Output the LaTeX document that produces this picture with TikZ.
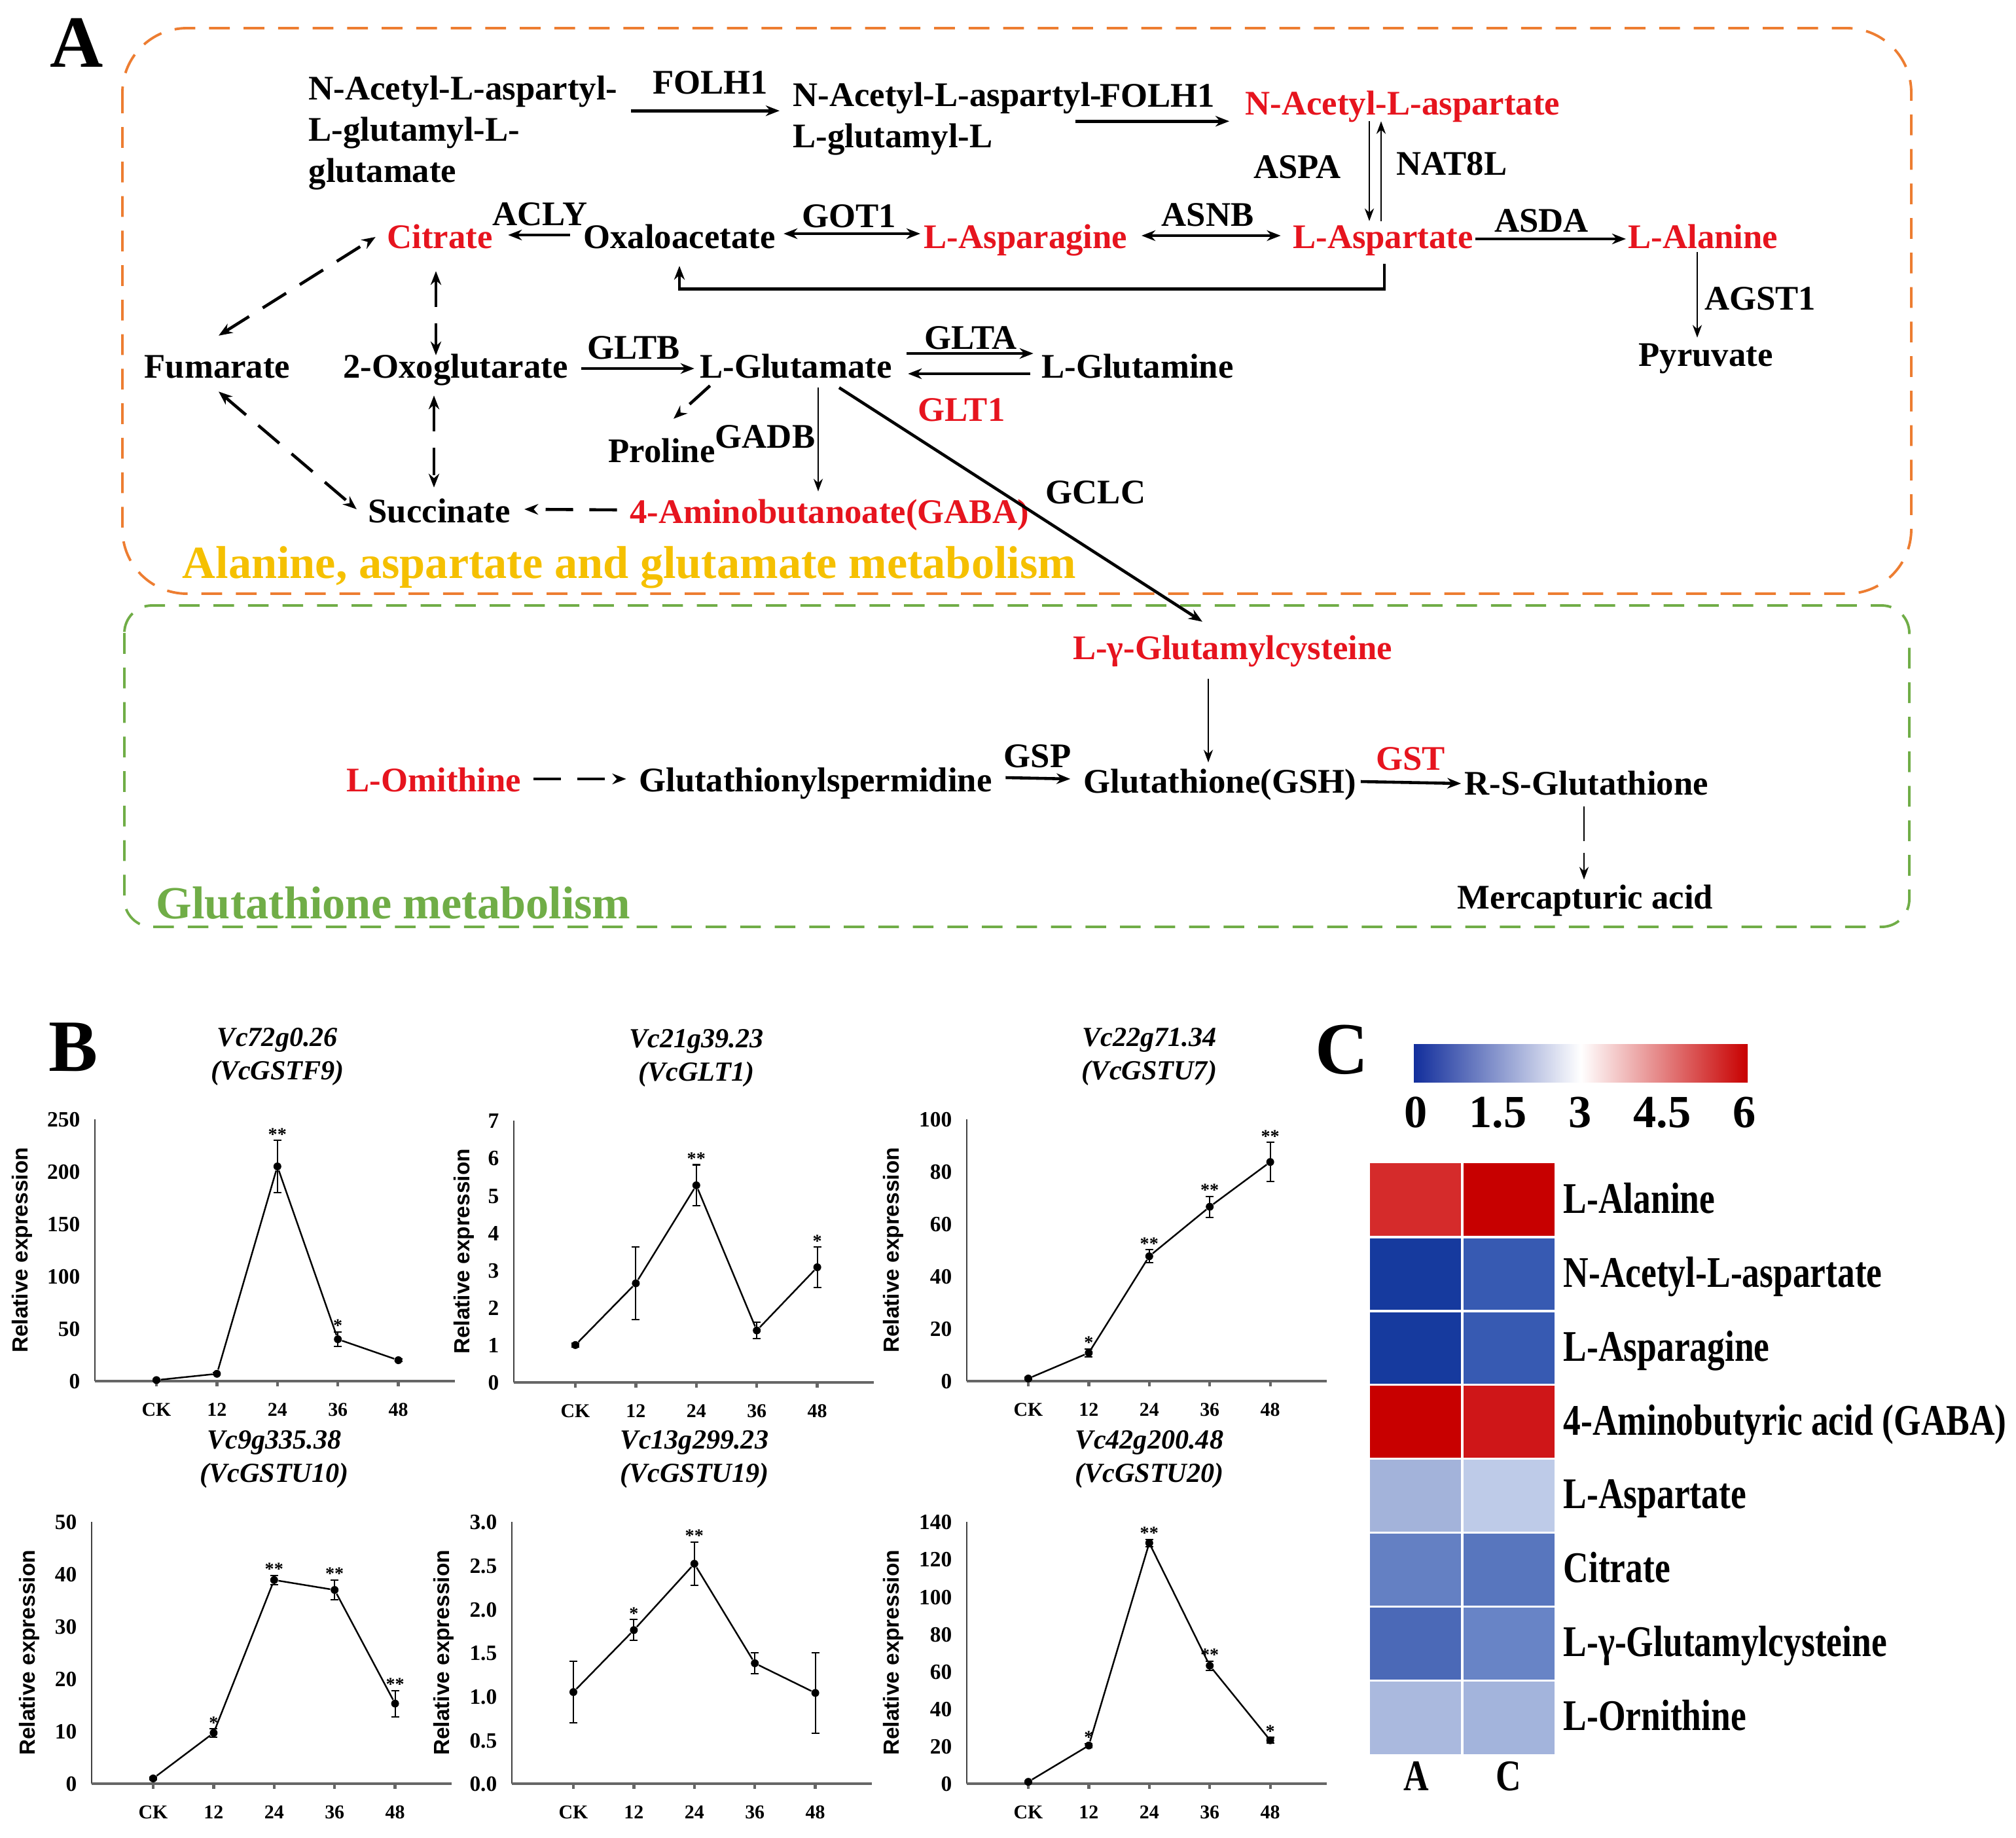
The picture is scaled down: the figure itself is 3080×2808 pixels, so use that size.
\documentclass[tikz,border=0pt]{standalone}
\usepackage{fontspec}
\setmainfont{Liberation Serif}
\newfontfamily\axisfont{Liberation Sans}
\newfontfamily\hmfont{Liberation Serif}[FakeStretch=0.8]
\usetikzlibrary{arrows.meta, calc}
\definecolor{hitred}{RGB}{230,20,30}
\definecolor{aspbox}{RGB}{237,125,49}
\definecolor{gshbox}{RGB}{112,173,71}
\definecolor{asptitle}{RGB}{245,192,0}
\definecolor{cbblue}{RGB}{18,46,156}
\definecolor{cbred}{RGB}{200,0,0}
\definecolor{hmA1}{RGB}{213,43,43}   \definecolor{hmC1}{RGB}{199,0,0}
\definecolor{hmA2}{RGB}{22,58,158}   \definecolor{hmC2}{RGB}{55,90,178}
\definecolor{hmA3}{RGB}{22,58,158}   \definecolor{hmC3}{RGB}{55,90,178}
\definecolor{hmA4}{RGB}{200,0,0}     \definecolor{hmC4}{RGB}{207,22,24}
\definecolor{hmA5}{RGB}{163,179,218} \definecolor{hmC5}{RGB}{190,203,232}
\definecolor{hmA6}{RGB}{100,128,195} \definecolor{hmC6}{RGB}{88,118,190}
\definecolor{hmA7}{RGB}{75,105,183}  \definecolor{hmC7}{RGB}{104,132,198}
\definecolor{hmA8}{RGB}{170,185,222} \definecolor{hmC8}{RGB}{163,180,220}

\tikzstyle{metab} = [inner sep=0pt, text height=11.3pt, text depth=1.5pt,
                     font=\fontsize{15}{18}\selectfont\bfseries]
\tikzstyle{metabml} = [inner sep=0pt, align=left,
                       font=\fontsize{15}{18}\selectfont\bfseries]
\tikzstyle{hit} = [metab, text=hitred]
\tikzstyle{arrow} = [line width=1.3pt, -{Stealth[length=6pt,width=4.6pt]}]
\tikzstyle{dblarrow} = [line width=1.3pt,
                        {Stealth[length=6pt,width=4.6pt]}-{Stealth[length=6pt,width=4.6pt]}]
\tikzstyle{thinarrow} = [line width=0.8pt, -{Stealth[length=5.5pt,width=4pt]}]
\tikzstyle{dasharrow} = [arrow, dash pattern=on 12pt off 7pt]
\tikzstyle{dashdbl} = [dblarrow, dash pattern=on 12pt off 7pt]
\tikzstyle{pathbox} = [line width=1.1pt, dash pattern=on 9pt off 6pt]
\tikzstyle{pathtitle} = [inner sep=0pt, anchor=west, text height=15pt, text depth=2pt,
                         font=\fontsize{20}{24}\selectfont\bfseries]
\tikzstyle{panel} = [inner sep=0pt, text height=22.4pt, text depth=0pt,
                     font=\fontsize{32}{36}\selectfont\bfseries]
\tikzstyle{plottitle} = [inner sep=0pt, text height=9pt, text depth=1.2pt,
                         font=\fontsize{12}{14}\selectfont\bfseries\itshape]
\tikzstyle{ytick} = [inner sep=0pt, anchor=east, text height=6.7pt, text depth=0pt,
                     font=\fontsize{9.5}{11}\selectfont\bfseries]
\tikzstyle{xtick} = [inner sep=0pt, text height=5.8pt, text depth=0pt,
                     font=\fontsize{8.5}{10}\selectfont\bfseries]
\tikzstyle{ylab} = [inner sep=0pt, rotate=90, font=\fontsize{9.5}{11}\axisfont\bfseries]
\tikzstyle{stars} = [inner sep=0pt, anchor=base, font=\fontsize{8}{9}\selectfont\bfseries]
\tikzstyle{dot} = [circle, fill=black, inner sep=0pt, minimum size=0.12cm]
\tikzstyle{dataline} = [line width=0.7pt]
\tikzstyle{errbar} = [line width=0.6pt]
\tikzstyle{xaxis} = [line width=1.2pt, black!60]
\tikzstyle{yaxis} = [line width=0.6pt, black!75]
\tikzstyle{hmlabel} = [inner sep=0pt, text height=13.3pt, text depth=2pt,
                       font=\fontsize{19}{22}\hmfont\bfseries]
\tikzstyle{cblabel} = [inner sep=0pt, text height=14pt, text depth=0pt,
                       font=\fontsize{20}{24}\selectfont\bfseries]

% one expression plot: name, origin x, origin y, top value, y ticks, points, title, gene, y-label offset
\newcommand{\exprplot}[9]{%
  \node[plottitle] (#1-ta) at ({#2+279},{#3-525}) {#7};
  \node[plottitle] (#1-tb) at ({#2+279},{#3-474}) {#8};
  \begin{scope}[shift={({#2},{#3})}]
    \draw[yaxis] (0,0) -- (0,-400);
    \draw[xaxis] (0,0) -- (550,0);
    \foreach \tk/\tl [count=\n] in {#5}
      \node[ytick] (#1-y\n) at (-22,{-\tk/#4*400}) {\tl};
    \node[ylab] (#1-lab) at (#9,-200) {Relative expression};
    \foreach \xl [count=\n from 0] in {CK,12,24,36,48} {
      \draw[xaxis] ({94+92.4*\n},0) -- ({94+92.4*\n},8);
      \node[xtick] (#1-x\n) at ({94+92.4*\n},43) {\xl};
    }
    \foreach \pos/\val/\err/\sig in {#6} {
      \draw[errbar] ({94+92.4*\pos},{-(\val-\err)/#4*400}) -- ({94+92.4*\pos},{-(\val+\err)/#4*400});
      \draw[errbar] ({88+92.4*\pos},{-(\val+\err)/#4*400}) -- ({100+92.4*\pos},{-(\val+\err)/#4*400});
      \draw[errbar] ({88+92.4*\pos},{-(\val-\err)/#4*400}) -- ({100+92.4*\pos},{-(\val-\err)/#4*400});
      \node[dot] (#1-p\pos) at ({94+92.4*\pos},{-\val/#4*400}) {};
      \node[stars] (#1-s\pos) at ({94+92.4*\pos},{-(\val+\err)/#4*400}) {\sig};
    }
    \draw[dataline] (#1-p0) -- (#1-p1) -- (#1-p2) -- (#1-p3) -- (#1-p4);
  \end{scope}
}

\begin{document}
\begin{tikzpicture}[x=0.01cm, y=-0.01cm]
    \useasboundingbox (0,0) rectangle (3080,2808);

    % A: pathway
    \node[panel] (panelA) at (117,63) {A};
    \draw[pathbox, aspbox, rounded corners=28pt] (187,43) rectangle (2920,907);
    \draw[pathbox, gshbox, rounded corners=12pt] (190,925) rectangle (2917,1416);
    \node[pathtitle, text=asptitle] (titleA) at (278,861) {Alanine, aspartate and glutamate metabolism};
    \node[pathtitle, text=gshbox] (titleG) at (238,1381) {Glutathione metabolism};

    \node[metabml, anchor=north west] (naag) at (471,115) {N-Acetyl-L-aspartyl-\\L-glutamyl-L-\\glutamate};
    \node[metab] (folA) at (1085,126) {FOLH1};
    \node[metabml, anchor=north west] (naagl) at (1211,125) {N-Acetyl-L-aspartyl-\\L-glutamyl-L};
    \node[metab] (folB) at (1768,146) {FOLH1};
    \node[hit] (nacasp) at (2143,158) {N-Acetyl-L-aspartate};
    \node[metab] (aspa) at (1982,255) {ASPA};
    \node[metab] (nat8l) at (2218,250) {NAT8L};
    \node[hit] (lasp) at (2113,362) {L-Aspartate};
    \node[metab] (asda) at (2355,337) {ASDA};
    \node[hit] (lala) at (2602,362) {L-Alanine};
    \node[metab] (agst1) at (2689,456) {AGST1};
    \node[metab] (pyr) at (2606,542) {Pyruvate};
    \node[metab] (asnb) at (1845,328) {ASNB};
    \node[hit] (lasn) at (1567,362) {L-Asparagine};
    \node[metab] (got1) at (1297,330) {GOT1};
    \node[metab] (oxa) at (1038,362) {Oxaloacetate};
    \node[metab] (acly) at (825,327) {ACLY};
    \node[hit] (cit) at (672,362) {Citrate};
    \node[metab] (fum) at (332,560) {Fumarate};
    \node[metab] (oxg) at (696,560) {2-Oxoglutarate};
    \node[metab] (gltb) at (968,531) {GLTB};
    \node[metab] (lglu) at (1216,560) {L-Glutamate};
    \node[metab] (glta) at (1483,516) {GLTA};
    \node[metab] (lgln) at (1738,560) {L-Glutamine};
    \node[hit] (glt1) at (1469,626) {GLT1};
    \node[metab] (pro) at (1011,689) {Proline};
    \node[metab] (gadb) at (1169,667) {GADB};
    \node[metab] (suc) at (671,781) {Succinate};
    \node[hit] (gaba) at (1267,782) {4-Aminobutanoate(GABA)};
    \node[metab] (gclc) at (1674,752) {GCLC};

    \node[hit] (lgc) at (1883,990) {L-γ-Glutamylcysteine};
    \node[metab] (gsh) at (1864,1194) {Glutathione(GSH)};
    \node[metab] (gsp) at (1585,1155) {GSP};
    \node[metab] (gspd) at (1246,1192) {Glutathionylspermidine};
    \node[hit] (orn) at (663,1192) {L-Omithine};
    \node[hit] (gst) at (2155,1159) {GST};
    \node[metab] (rsg) at (2424,1197) {R-S-Glutathione};
    \node[metab] (merc) at (2422,1371) {Mercapturic acid};

    \draw[arrow] ($(naag.east |- folA.south)+(20,20)$) -- ($(naagl.west |- folA.south)+(-20,20)$);
    \draw[arrow] ($(folB.south west)+(-36,16)$) -- ($(nacasp.west |- folB.south)+(-24,16)$);
    \draw[thinarrow] ($(lasp.north |- nacasp.south)+(-21,4)$) -- ($(lasp.north)+(-21,-1)$);
    \draw[thinarrow] ($(lasp.north)+(-3,-1)$) -- ($(lasp.north |- nacasp.south)+(-3,4)$);
    \draw[arrow] ($(lasp.east)+(3,3)$) -- ($(lala.west)+(-3,3)$);
    \draw[thinarrow] ($(lala.south)+(-9,0)$) -- ($(lala.south |- pyr.north)+(-9,-3)$);
    \draw[dblarrow] ($(lasn.east)+(21,-2)$) -- ($(lasp.west)+(-18,-2)$);
    \draw[dblarrow] ($(oxa.east)+(12,-5)$) -- ($(lasn.west)+(-5,-5)$);
    \draw[arrow] ($(oxa.west)+(-20,-3)$) -- ($(cit.east)+(23,-3)$);
    \draw[arrow] ($(lasp.south)+(2,18)$) -- ($(lasp.south)+(2,56)$) -| ($(oxa.south)+(0,21)$);
    \draw[dashdbl] ($(cit.south)+(-6,29)$) -- ($(cit.south |- oxg.north)+(-6,6)$);
    \draw[dashdbl] ($(suc.north |- oxg.south)+(-8,21)$) -- ($(suc.north)+(-8,-13)$);
    \draw[dashdbl] ($(fum.north)+(2,-24)$) -- ($(cit.west)+(-17,0)$);
    \draw[dashdbl] ($(fum.south)+(2,15)$) -- ($(suc.west)+(-17,-3)$);
    \draw[dasharrow] ($(gaba.west)+(-19,-3)$) -- ($(suc.east)+(21,-3)$);
    \draw[arrow] ($(oxg.east)+(20,3)$) -- ($(lglu.west)+(-8,3)$);
    \draw[arrow] ($(lglu.east)+(22,-20)$) -- ($(lgln.west)+(-12,-20)$);
    \draw[arrow] ($(lgln.west)+(-17,11)$) -- ($(lglu.east)+(24,11)$);
    \draw[thinarrow] ($(lglu.south)+(34,9)$) -- ($(lglu.south |- gaba.north)+(34,-8)$);
    \draw[dasharrow] ($(lglu.south west)+(16,6)$) -- ($(pro.north)+(18,-26)$);
    \draw[arrow] ($(lglu.south)+(66,9)$) -- ($(lgc.north)+(-46,-17)$);
    \draw[thinarrow] ($(lgc.south)+(-37,24)$) -- ($(lgc.south |- gsh.north)+(-37,-6)$);
    \draw[arrow] ($(gspd.east)+(20,-4)$) -- ($(gsh.west)+(-20,-4)$);
    \draw[dasharrow] ($(orn.east)+(18,-2)$) -- ($(gspd.west)+(-19,-2)$);
    \draw[arrow] ($(gsh.east)+(6,0)$) -- ($(rsg.west)+(-5,0)$);
    \draw[thinarrow, dash pattern=on 15pt off 5pt] ($(rsg.south)+(-4,12)$) -- ($(rsg.south |- merc.north)+(-4,-4)$);

    % B: expression plots
    \node[panel] (panelB) at (112,1597) {B};
    \exprplot{gstf9}{145}{2110}{250}{0/0,50/50,100/100,150/150,200/200,250/250}
      {0/1/1/{},1/7/1/{},2/205/25/**,3/40/7/*,4/20/1.5/{}}{Vc72g0.26}{(VcGSTF9)}{-111}
    \exprplot{glt1p}{785}{2112}{7}{0/0,1/1,2/2,3/3,4/4,5/5,6/6,7/7}
      {0/1/0.05/{},1/2.65/0.97/{},2/5.27/0.55/**,3/1.39/0.22/{},4/3.08/0.54/*}{Vc21g39.23}{(VcGLT1)}{-76}
    \exprplot{gstu7}{1477}{2110}{100}{0/0,20/20,40/40,60/60,80/80,100/100}
      {0/1/0.5/{},1/10.8/1.5/*,2/47.7/2.5/**,3/66.6/4/**,4/83.7/7.5/**}{Vc22g71.34}{(VcGSTU7)}{-112}
    \exprplot{gstu10}{140}{2725}{50}{0/0,10/10,20/20,30/30,40/40,50/50}
      {0/1/0.3/{},1/9.7/0.8/*,2/38.9/0.9/**,3/37/1.9/**,4/15.3/2.5/**}{Vc9g335.38}{(VcGSTU10)}{-95}
    \exprplot{gstu19}{782}{2725}{3}{0/0.0,0.5/0.5,1/1.0,1.5/1.5,2/2.0,2.5/2.5,3/3.0}
      {0/1.05/0.35/{},1/1.76/0.12/*,2/2.52/0.25/**,3/1.38/0.12/{},4/1.04/0.46/{}}{Vc13g299.23}{(VcGSTU19)}{-104}
    \exprplot{gstu20}{1477}{2725}{140}{0/0,20/20,40/40,60/60,80/80,100/100,120/120,140/140}
      {0/1/0.5/{},1/20.4/1/*,2/128.7/2/**,3/63.1/2.5/**,4/23.2/1.5/*}{Vc42g200.48}{(VcGSTU20)}{-112}

    % C: heat map
    \node[panel] (panelC) at (2050,1601) {C};
    \shade[left color=cbblue, right color=cbred, middle color=white] (2160,1595) rectangle (2670,1653);
    \foreach \cv [count=\n from 0] in {0,1.5,3,4.5,6}
      \node[cblabel] (cb\n) at ({2163+125.5*\n},1698) {\cv};
    \foreach \name [count=\row] in {L-Alanine, N-Acetyl-L-aspartate, L-Asparagine,
        4-Aminobutyric acid (GABA), L-Aspartate, Citrate, L-γ-Glutamylcysteine, L-Ornithine} {
      \fill[fill=hmA\row] (2093,{1777+(\row-1)*112.9}) rectangle (2234,{1777+\row*112.9});
      \fill[fill=hmC\row] (2234,{1777+(\row-1)*112.9}) rectangle (2375,{1777+\row*112.9});
      \node[hmlabel, anchor=west] (hm\row) at (2388,{1777+(\row-0.5)*112.9}) {\name};
    }
    \foreach \row in {1,...,7}
      \draw[white, line width=1pt] (2093,{1777+\row*112.9}) -- (2375,{1777+\row*112.9});
    \draw[white, line width=1pt] (2234,1777) -- (2234,2680);
    \node[hmlabel] (colA) at (2164,2716) {A};
    \node[hmlabel] (colC) at (2305,2716) {C};

\end{tikzpicture}
\end{document}
